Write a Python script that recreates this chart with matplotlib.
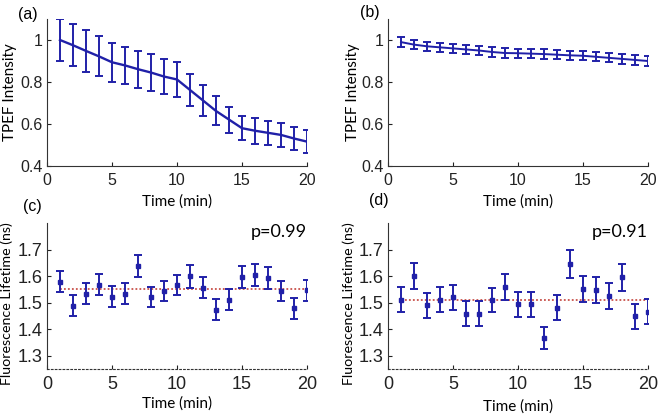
import matplotlib
matplotlib.use("Agg")
import matplotlib.pyplot as plt

# time points (min)
time_min = list(range(1, 21))

# (a) TPEF intensity, fast decay
tpef_a = [1.0, 0.975, 0.948, 0.922, 0.894, 0.879, 0.861, 0.845, 0.826, 0.812,
          0.762, 0.712, 0.662, 0.621, 0.580, 0.568, 0.558, 0.548, 0.531, 0.516]
tpef_a_err = [0.100, 0.100, 0.098, 0.095, 0.093, 0.090, 0.089, 0.088, 0.085, 0.084,
              0.078, 0.074, 0.069, 0.062, 0.058, 0.061, 0.058, 0.057, 0.055, 0.054]

# (b) TPEF intensity, slow decay
tpef_b = [0.990, 0.978, 0.970, 0.965, 0.960, 0.955, 0.950, 0.943, 0.938, 0.937,
          0.935, 0.933, 0.930, 0.927, 0.925, 0.920, 0.915, 0.910, 0.905, 0.900]
tpef_b_err = [0.022] * 20

# (c) fluorescence lifetime (ns)
life_c = [1.579, 1.489, 1.534, 1.568, 1.523, 1.534, 1.639, 1.520, 1.543, 1.566,
          1.599, 1.556, 1.474, 1.511, 1.596, 1.605, 1.593, 1.544, 1.478, 1.546]
life_c_err = [0.039, 0.038, 0.039, 0.040, 0.039, 0.039, 0.042, 0.038, 0.038, 0.039,
              0.042, 0.040, 0.038, 0.039, 0.041, 0.041, 0.041, 0.039, 0.038, 0.039]
mean_c = 1.55
p_c = "p=0.99"

# (d) fluorescence lifetime (ns)
life_d = [1.511, 1.601, 1.491, 1.511, 1.520, 1.459, 1.459, 1.511, 1.560, 1.493,
          1.493, 1.366, 1.481, 1.646, 1.551, 1.546, 1.525, 1.595, 1.448, 1.465]
life_d_err = [0.047, 0.049, 0.047, 0.047, 0.047, 0.046, 0.046, 0.046, 0.049, 0.047,
              0.047, 0.041, 0.047, 0.052, 0.049, 0.049, 0.049, 0.050, 0.046, 0.047]
mean_d = 1.511
p_d = "p=0.91"

BLUE = "#2020a8"
RED = "#c8504a"
TICK_FONT = "Liberation Sans"
LABEL_FONT = "Lato"

W, H = 660, 417
fig = plt.figure(figsize=(W / 100, H / 100), dpi=100)


def px_axes(left, top, right, bottom):
    return fig.add_axes([left / W, 1 - bottom / H, (right - left) / W, (bottom - top) / H])


def style_common(ax, fs):
    for side in ("top", "right"):
        ax.spines[side].set_visible(False)
    for side in ("left", "bottom"):
        ax.spines[side].set_color("#333333")
    ax.tick_params(direction="in", length=3, width=0.8, labelsize=fs, colors="#222222")
    ax.tick_params(axis="x", pad=5)
    ax.tick_params(axis="y", pad=3)
    for lab in ax.get_xticklabels() + ax.get_yticklabels():
        lab.set_fontfamily(TICK_FONT)
    ax.set_xlim(0, 20)
    ax.set_xticks([0, 5, 10, 15, 20])


def tpef_panel(ax, y, err, lw, ylab_x):
    ax.errorbar(time_min, y, yerr=err, color=BLUE, lw=lw, elinewidth=1.4,
                capsize=3, capthick=1.4)
    ax.set_ylim(0.4, 1.1)
    ax.set_yticks([0.4, 0.6, 0.8, 1.0])
    ax.set_yticklabels(["0.4", "0.6", "0.8", "1"])
    style_common(ax, 11.5)
    ax.set_ylabel("TPEF Intensity", family=LABEL_FONT, fontsize=11)
    ax.set_xlabel("Time (min)", family=LABEL_FONT, fontsize=11)
    ax.yaxis.set_label_coords(ylab_x, 0.5)
    ax.xaxis.set_label_coords(0.5, -0.19)


def life_panel(ax, y, err, mean, ptext, ylab_x, xlab_y):
    ax.plot([1, 20], [mean, mean], color=RED, ls=(0, (1, 1.2)), lw=1.3)
    ax.errorbar(time_min, y, yerr=err, fmt="s", ms=2.5, color=BLUE, elinewidth=1.4,
                capsize=3, capthick=1.4)
    ax.set_ylim(1.25, 1.8)
    ax.set_yticks([1.3, 1.4, 1.5, 1.6, 1.7])
    style_common(ax, 13)
    ax.spines["bottom"].set_linestyle((0, (1.5, 2)))
    ax.text(20, 1.765, ptext, ha="right", va="center", family=LABEL_FONT, fontsize=13)
    ax.set_ylabel("Fluorescence Lifetime (ns)", family=LABEL_FONT, fontsize=10.3)
    ax.set_xlabel("Time (min)", family=LABEL_FONT, fontsize=11)
    ax.yaxis.set_label_coords(ylab_x, 0.45)
    ax.xaxis.set_label_coords(0.5, xlab_y)


ax_a = px_axes(47, 19, 307, 166)
tpef_panel(ax_a, tpef_a, tpef_a_err, 1.7, -0.115)
ax_b = px_axes(388, 19, 648, 166)
tpef_panel(ax_b, tpef_b, tpef_b_err, 1.4, -0.108)
ax_c = px_axes(47, 223, 307, 369)
life_panel(ax_c, life_c, life_c_err, mean_c, p_c, -0.131, -0.19)
ax_d = px_axes(388, 223, 648, 369)
life_panel(ax_d, life_d, life_d_err, mean_d, p_d, -0.127, -0.21)

# panel letters
for txt, x, y in [("(a)", 18, 14), ("(b)", 360, 13), ("(c)", 23, 207), ("(d)", 369, 201)]:
    fig.text(x / W, 1 - y / H, txt, ha="left", va="center", family=TICK_FONT, fontsize=11.5)

fig.savefig("out.png", dpi=100)
